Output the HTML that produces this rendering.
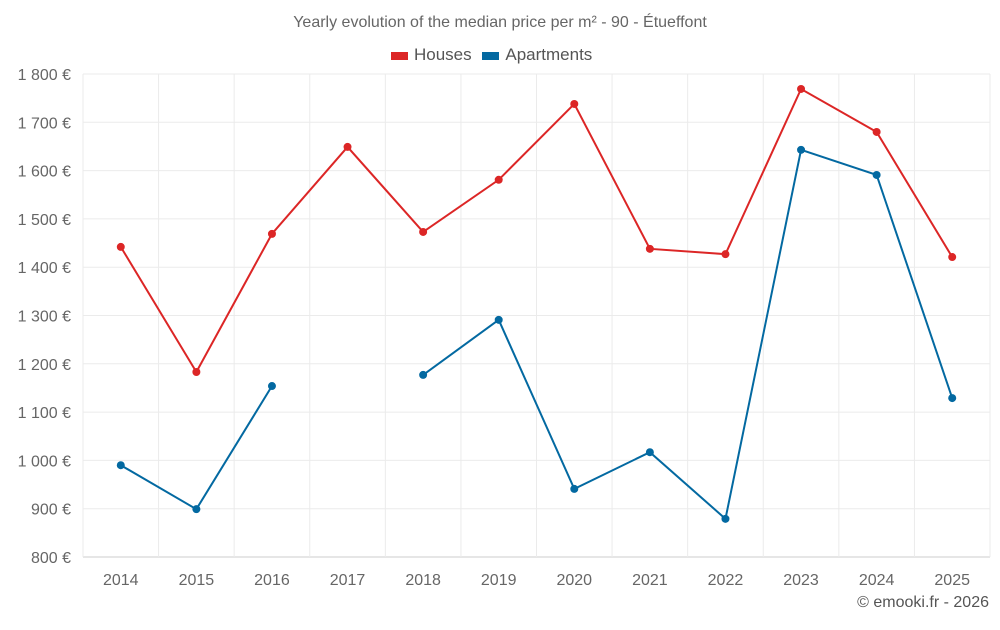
<!DOCTYPE html>
<html><head><meta charset="utf-8"><style>
body{margin:0;background:#fff;font-family:"Liberation Sans",Roboto,sans-serif}
svg text{font-family:"Liberation Sans",sans-serif}
</style></head><body>
<svg id="c" width="1000" height="625"></svg>
<script>
const years=["2014","2015","2016","2017","2018","2019","2020","2021","2022","2023","2024","2025"];
const houses=[1442,1183,1469,1649,1473,1581,1738,1438,1427,1769,1680,1421];
const apartments=[990,899,1154,null,1177,1291,941,1017,879,1643,1591,1129];
const yTicks=[800,900,1000,1100,1200,1300,1400,1500,1600,1700,1800];
const yLabels=["800 €","900 €","1 000 €","1 100 €","1 200 €","1 300 €","1 400 €","1 500 €","1 600 €","1 700 €","1 800 €"];
const svg=document.getElementById('c');const NS='http://www.w3.org/2000/svg';
const L=83,R=990,T=74,B=557;
const bw=(R-L)/years.length;
const x=i=>L+bw*(i+0.5);
const y=v=>B-(v-800)/1000*(B-T);
function el(t,a,p){const e=document.createElementNS(NS,t);for(const k in a)e.setAttribute(k,a[k]);(p||svg).appendChild(e);return e;}
yTicks.forEach((v,i)=>{
 const g=el('line',{x1:L,x2:R,y1:y(v),y2:y(v),stroke:i==0?'#ccc':'#ebebeb','stroke-width':1});
 
 
 const t=el('text',{x:71,y:y(v)+6,'text-anchor':'end','font-size':16,fill:'#666'});t.textContent=yLabels[i];
 
 
});
for(let i=0;i<=years.length;i++){
 const g=el('line',{x1:L+bw*i,x2:L+bw*i,y1:T,y2:B,stroke:'#ebebeb'});
 
 
}
years.forEach((yr,i)=>{
 const t=el('text',{x:x(i),y:585,'text-anchor':'middle','font-size':16,fill:'#666'});t.textContent=yr;
 
 
});
function series(data,color,name){
 let d='',pen=false;
 data.forEach((v,i)=>{if(v==null){pen=false;return;}d+=(pen?'L':'M')+x(i)+' '+y(v)+' ';pen=true;});
 const p=el('path',{d:d,fill:'none',stroke:color,'stroke-width':2});
 
 
 data.forEach((v,i)=>{if(v==null)return;
  const c=el('circle',{cx:x(i),cy:y(v),r:4,fill:color});
  
  
 });
}
series(houses,'#dc2626','houses');
series(apartments,'#0369a1','apartments');
</script>
<div style="position:absolute;left:0;top:14px;width:1000px;text-align:center;font-size:16px;color:#666">Yearly evolution of the median price per m² - 90 - Étueffont</div>
<div style="position:absolute;left:391px;top:45px;font-size:17px;color:#555;white-space:nowrap">
<span><span style="display:inline-block;width:17px;height:8px;background:#dc2626;margin-right:6px;vertical-align:middle"></span>Houses</span>
<span style="margin-left:6px"><span style="display:inline-block;width:17px;height:8px;background:#0369a1;margin-right:6px;vertical-align:middle"></span>Apartments</span>
</div>
<div style="position:absolute;right:11px;top:594px;font-size:16px;color:#555">© emooki.fr - 2026</div>
</body></html>
